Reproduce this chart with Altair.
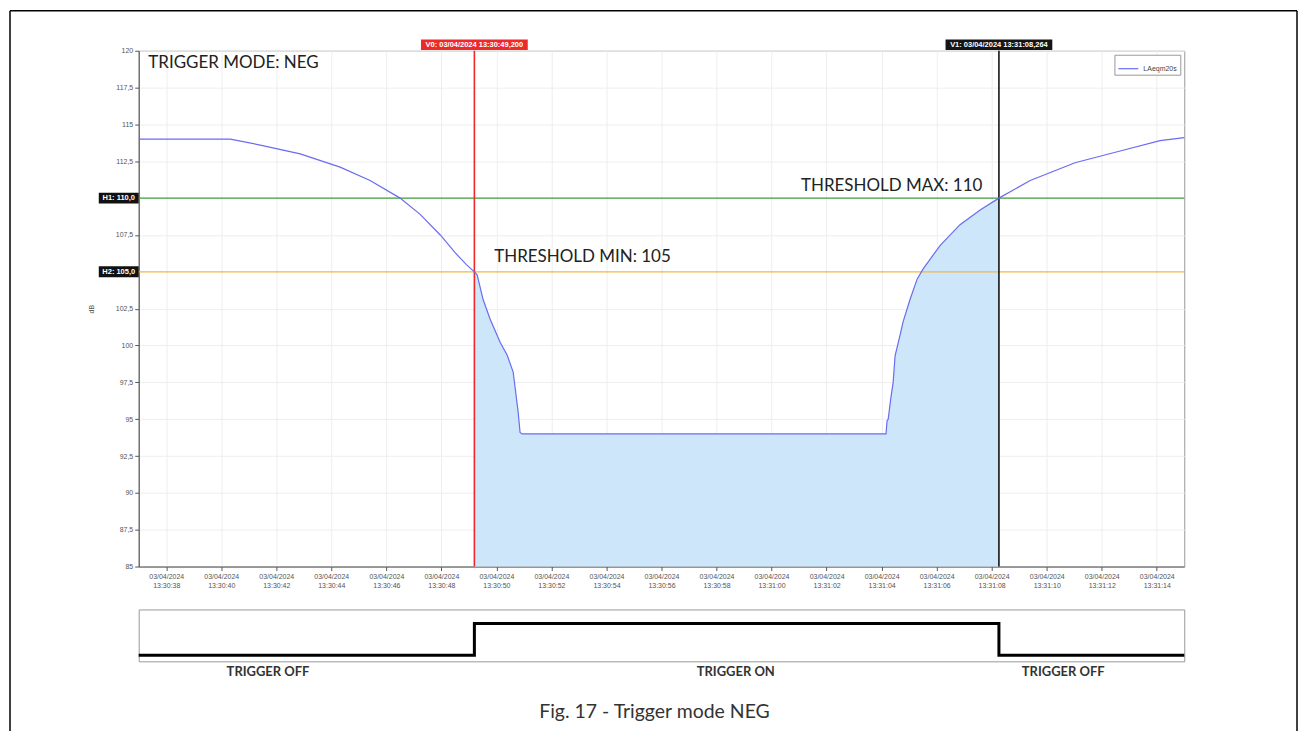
import altair as alt
import pandas as pd

# ---------------- data ----------------
# time in seconds after 13:30:00 (03/04/2024), level in dB
curve_t = [37.0, 40.33, 41.42, 42.87, 44.32, 45.41, 46.50, 47.23, 47.96, 48.50,
           48.90, 49.2, 49.30, 49.52, 49.77, 50.14, 50.39, 50.61, 50.79, 50.86,
           50.94, 64.16, 64.20, 64.24, 64.34, 64.42, 64.49, 64.67, 64.78, 65.03,
           65.29, 65.51, 66.13, 66.85, 67.58, 68.264, 69.40, 71.03, 72.67, 74.12,
           75.0]
curve_db = [114.0, 114.0, 113.6, 113.0, 112.1, 111.2, 110.0, 108.9, 107.5, 106.3,
            105.5, 105.0, 104.8, 103.1, 101.8, 100.2, 99.35, 98.2, 95.5, 94.1,
            94.0, 94.0, 94.9, 95.0, 96.5, 97.5, 99.3, 100.7, 101.6, 103.1,
            104.5, 105.2, 106.8, 108.2, 109.2, 110.0, 111.2, 112.4, 113.2, 113.9,
            114.1]
series_name = "LAeqm20s"

thr_values = [110.0, 105.0]
thr_labels = ["H1: 110,0", "H2: 105,0"]

cur_t = [49.2, 68.264]
cur_labels = ["V0: 03/04/2024 13:30:49,200", "V1: 03/04/2024 13:31:08,264"]

trig_t = [37.0, 49.2, 68.264, 75.0]
trig_state = [0, 1, 0, 0]
trig_label_t = [41.7, 58.7, 70.6]
trig_labels = ["TRIGGER OFF", "TRIGGER ON", "TRIGGER OFF"]

note_text = ["TRIGGER MODE: NEG", "THRESHOLD MIN: 105", "THRESHOLD MAX: 110"]
note_t = [37.35, 49.92, 61.07]
note_db = [119.2, 106.0, 110.85]

x_ticks = [38, 40, 42, 44, 46, 48, 50, 52, 54, 56, 58, 60, 62, 64, 66, 68, 70, 72, 74]
y_ticks = [85, 87.5, 90, 92.5, 95, 97.5, 100, 102.5, 107.5, 112.5, 115, 117.5, 120]
caption = "Fig. 17 - Trigger mode NEG"

# ---------------- tables ----------------
curve_df = pd.DataFrame({"t": curve_t, "db": curve_db, "series": series_name})
h_df = pd.DataFrame({"v": thr_values, "label": thr_labels})
v_df = pd.DataFrame({"t": cur_t, "label": cur_labels})
note_df = pd.DataFrame({"t": note_t, "db": note_db, "text": note_text})
trig_df = pd.DataFrame({"t": trig_t, "state": trig_state})
tl_df = pd.DataFrame({"t": trig_label_t, "text": trig_labels})
one = pd.DataFrame({"a": [0]})

W, H = 1048, 517
xs = alt.Scale(domain=[37, 75], nice=False, zero=False)
ys = alt.Scale(domain=[85, 120], nice=False, zero=False)

x_axis = alt.Axis(
    values=x_ticks, title=None, grid=True,
    labelExpr="['03/04/2024', '13:' + (datum.value < 60 ? '30' : '31') + ':' + "
              "(datum.value % 60 < 10 ? '0' : '') + (datum.value % 60)]",
    labelLineHeight=9, labelPadding=2,
)
y_axis = alt.Axis(
    values=y_ticks, title="dB", grid=True,
    labelExpr="replace(toString(datum.value), '.', ',')",
    titlePadding=21, titleFontSize=7, titleFontWeight="normal", titleColor="#555",
)
X = alt.X("t:Q", scale=xs, axis=x_axis)
Y = alt.Y("db:Q", scale=ys, axis=y_axis)

area = alt.Chart(curve_df).transform_filter(
    f"datum.t >= {cur_t[0]} && datum.t <= {cur_t[1]}"
).mark_area(color="#cde6fa", opacity=1).encode(x=X, y=Y, y2=alt.datum(85))

h_rules = alt.layer(
    alt.Chart(h_df.iloc[[0]]).mark_rule(color="#3f9a3f", strokeWidth=1.3).encode(
        y=alt.Y("v:Q", scale=ys, axis=y_axis)),
    alt.Chart(h_df.iloc[[1]]).mark_rule(color="#f5b545", strokeWidth=1.3).encode(
        y=alt.Y("v:Q", scale=ys, axis=y_axis)),
)

line = alt.Chart(curve_df).mark_line(strokeWidth=1.2).encode(
    x=X, y=Y,
    color=alt.Color("series:N",
                    scale=alt.Scale(domain=[series_name], range=["#6a6cf0"]),
                    legend=alt.Legend(title=None, orient="top-right", offset=4,
                                      symbolType="stroke", symbolSize=400,
                                      symbolStrokeWidth=1.2, labelFontSize=7,
                                      labelColor="#444", labelFont="Liberation Sans",
                                      strokeColor="#999", fillColor="white",
                                      padding=3, labelOffset=4)),
)

v_colors = ["#ec2a2a", "#151515"]
v_rules = alt.layer(*[
    alt.Chart(v_df.iloc[[i]]).mark_rule(color=v_colors[i], strokeWidth=1.6).encode(
        x=alt.X("t:Q", scale=xs, axis=x_axis))
    for i in range(2)
])

box_v = "M-1,-0.1L1,-0.1L1,0.1L-1,0.1Z"
v_boxes = alt.layer(*[
    alt.Chart(v_df.iloc[[i]]).mark_point(shape=box_v, size=107 ** 2, filled=True,
                                         opacity=1, color=v_colors[i], clip=False).encode(
        x=alt.X("t:Q", scale=xs, axis=x_axis), y=alt.value(-6))
    for i in range(2)
])
v_text = alt.Chart(v_df).mark_text(color="white", fontSize=7.5, font="Liberation Sans",
                                   fontWeight="bold", baseline="middle", clip=False).encode(
    x=alt.X("t:Q", scale=xs, axis=x_axis), y=alt.value(-6), text="label:N")

box_h = "M-1,-0.275L1,-0.275L1,0.275L-1,0.275Z"
h_boxes = alt.Chart(h_df).mark_point(shape=box_h, size=1600, filled=True, opacity=1,
                                     color="#111", clip=False).encode(
    x=alt.value(-20), y=alt.Y("v:Q", scale=ys, axis=y_axis))
h_text = alt.Chart(h_df).mark_text(color="white", fontSize=7.5, font="Liberation Sans",
                                   fontWeight="bold", baseline="middle", clip=False).encode(
    x=alt.value(-20), y=alt.Y("v:Q", scale=ys, axis=y_axis), text="label:N")

notes = alt.Chart(note_df).mark_text(align="left", baseline="middle", font="Lato",
                                     fontSize=17, color="#222").encode(
    x=alt.X("t:Q", scale=xs, axis=x_axis), y=alt.Y("db:Q", scale=ys, axis=y_axis),
    text="text:N")

frame_bottom = 684
frame = alt.layer(
    alt.Chart(one).mark_rule(color="black", strokeWidth=1.5, clip=False).encode(
        x=alt.value(-129), y=alt.value(-40), y2=alt.value(frame_bottom)),
    alt.Chart(one).mark_rule(color="black", strokeWidth=1.5, clip=False).encode(
        x=alt.value(1161), y=alt.value(-40), y2=alt.value(frame_bottom)),
    alt.Chart(one).mark_rule(color="black", strokeWidth=1.5, clip=False).encode(
        x=alt.value(-129), x2=alt.value(1161), y=alt.value(-40)),
)

main = alt.layer(area, h_rules, v_rules, line, v_boxes, v_text, h_boxes, h_text,
                 notes, frame).properties(width=W, height=H)

# ---------------- trigger panel ----------------
TX = alt.X("t:Q", scale=xs, axis=None)
trig_line = alt.Chart(trig_df).mark_line(interpolate="step-after", color="black",
                                         strokeWidth=3).encode(
    x=TX,
    y=alt.Y("state:Q", scale=alt.Scale(domain=[-0.1875, 1.4375], nice=False, zero=False),
            axis=None))
trig_text = alt.Chart(tl_df).mark_text(font="Lato", fontSize=13, fontWeight="bold",
                                       color="#333", baseline="middle", clip=False).encode(
    x=TX, y=alt.value(63), text="text:N")
cap = alt.Chart(one).mark_text(font="Lato", fontSize=19.5, color="#333",
                               baseline="middle", clip=False).encode(
    x=alt.value(517), y=alt.value(103), text=alt.datum(caption))
trig = alt.layer(trig_line, trig_text, cap).properties(width=W, height=52)

chart = alt.vconcat(main, trig, spacing=43, bounds="flush").properties(
    padding=0, background="white"
).configure_view(stroke="#999", strokeWidth=1).configure_axis(
    labelFont="Liberation Sans", labelFontSize=7, labelColor="#555",
    domainColor="#555", tickColor="#555", tickSize=4, gridColor="#eeeeee",
    titleFont="Liberation Sans"
)

chart.save("out.html", embed_options={"renderer": "svg", "actions": False})
